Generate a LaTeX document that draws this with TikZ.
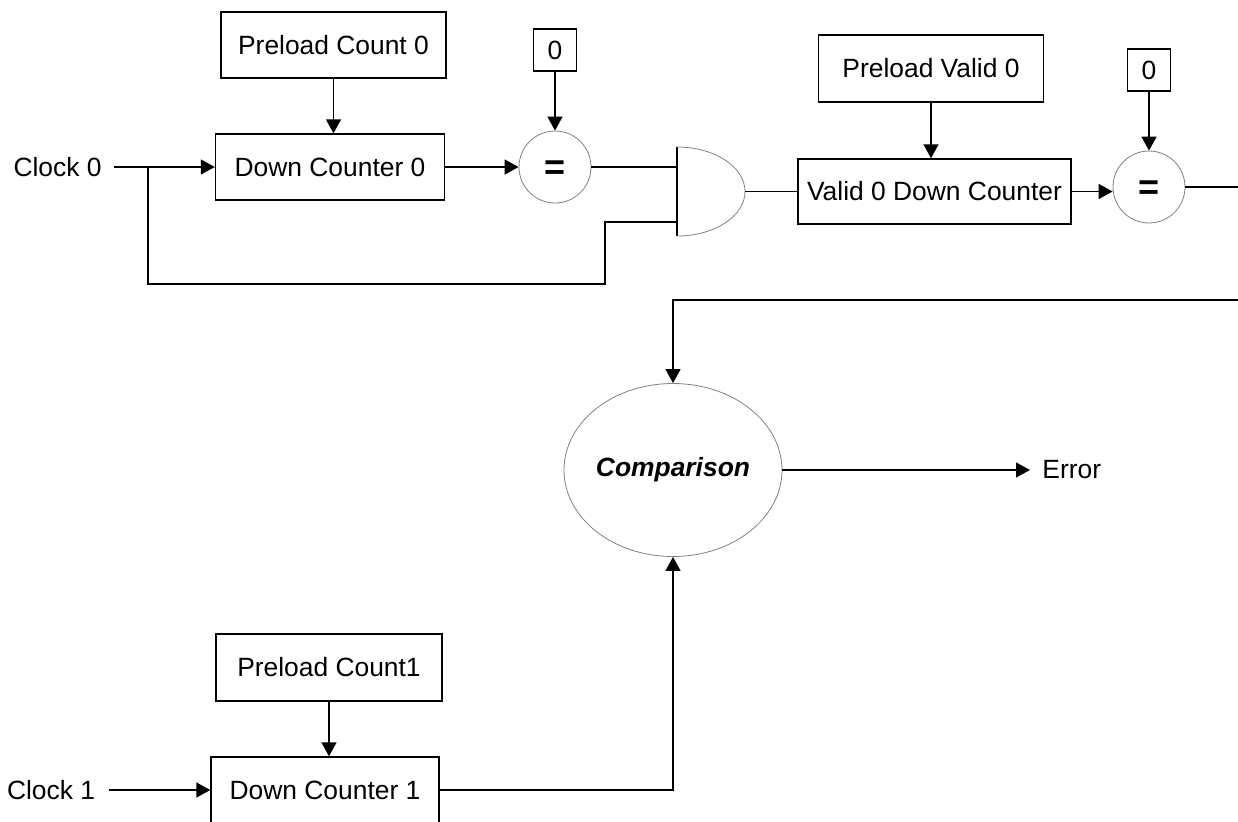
\documentclass[tikz,border=0pt]{standalone}
\usepackage{fontspec}
\setmainfont{Liberation Sans}
\usetikzlibrary{arrows.meta,shapes.geometric}

\begin{document}
\begin{tikzpicture}[x=0.5pt,y=-0.5pt,
        every node/.style={font=\fontsize{13.2}{16}\selectfont},
        blockbox/.style={draw,line width=0.7pt,inner sep=0pt},
        eqcirc/.style={draw=gray,line width=0.4pt,circle,minimum size=36pt,inner sep=0pt,
            font=\fontsize{18}{18}\selectfont\bfseries},
        wire/.style={line width=0.7pt},
        arr/.style={wire,-{Triangle[length=7pt,width=7.5pt]}}]

        \useasboundingbox (0,0) rectangle (1238,821);

        % Channel 0 counter
        \node[anchor=east,inner sep=6pt] (clk0) at (114,167) {Clock 0};
        \node[blockbox,minimum width=112.5pt,minimum height=33pt] (pre0) at (333.5,45) {Preload Count 0};
        \node[blockbox,minimum width=114.5pt,minimum height=33pt] (dc0) at (330,167) {Down Counter 0};

        % Valid 0 counter
        \node[blockbox,minimum width=112.5pt,minimum height=33.5pt] (prev) at (931,68.5) {Preload Valid 0};
        \node[blockbox,minimum width=136.5pt,minimum height=32.5pt] (vdc) at (934.5,191.5) {Valid 0 Down Counter};

        % Zero constants and comparators
        \foreach \n/\x/\y in {0/555/167, 1/1149/187}
        {
            \node[blockbox,minimum width=21.5pt,minimum height=21pt] (zero\n) at (\x,\y-117) {0};
            \node[eqcirc] (eq\n) at (\x,\y) {\raisebox{-1.8pt}[\height][\depth]{=}};
            \draw[arr] (zero\n) -- (eq\n);
        }

        % AND gate
        \coordinate (andA) at (677,167);
        \coordinate (andB) at (677,222);
        \coordinate (andY) at (745,191.5);
        \draw[wire] (677,147) -- (677,236);
        \draw[gray,line width=0.4pt] (677,147) arc[start angle=-90,end angle=90,x radius=68,y radius=44.5];

        % Comparison and channel 1
        \node[draw=gray,line width=0.4pt,ellipse,inner sep=0pt,minimum width=109pt,minimum height=86.5pt,
            font=\fontsize{13.2}{16}\selectfont\bfseries\itshape] (cmp) at (673,470) {Comparison};
        \node[anchor=west,inner sep=6pt] (err) at (1030,470) {Error};
        \node[anchor=east,inner sep=6.5pt] (clk1) at (108.5,790) {Clock 1};
        \node[blockbox,minimum width=113pt,minimum height=33.5pt] (pre1) at (329,667.5) {Preload Count1};
        \node[blockbox,minimum width=114pt,minimum height=33pt] (dc1) at (325,790) {Down Counter 1};

        % Free ends at the right edge
        \coordinate (out0) at (1238,187);
        \coordinate (in1) at (1238,300);
        \coordinate (tap) at (148,167);
        \coordinate (fb) at (605,284);

        % Connectors
        \draw[arr] (clk0.east) -- (dc0.west);
        \draw[arr] (pre0.south) -- (pre0.south |- dc0.north);
        \draw[arr] (dc0.east) -- (eq0.west);
        \draw[wire] (eq0.east) -- (eq0.east -| andA);
        \draw[wire] (tap) |- (fb) |- (andB);
        \draw[wire] (andY) -- (vdc.west);
        \draw[arr] (prev.south) -- (prev.south |- vdc.north);
        \draw[arr] (vdc.east) -- (vdc.east -| eq1.west);
        \draw[wire] (eq1.east) -- (out0);
        \draw[arr] (in1) -| (cmp.north);
        \draw[arr] (cmp.east) -- (err.west);
        \draw[arr] (clk1.east) -- (dc1.west);
        \draw[arr] (pre1.south) -- (pre1.south |- dc1.north);
        \draw[arr] (dc1.east) -| (cmp.south);

    \end{tikzpicture}
\end{document}
